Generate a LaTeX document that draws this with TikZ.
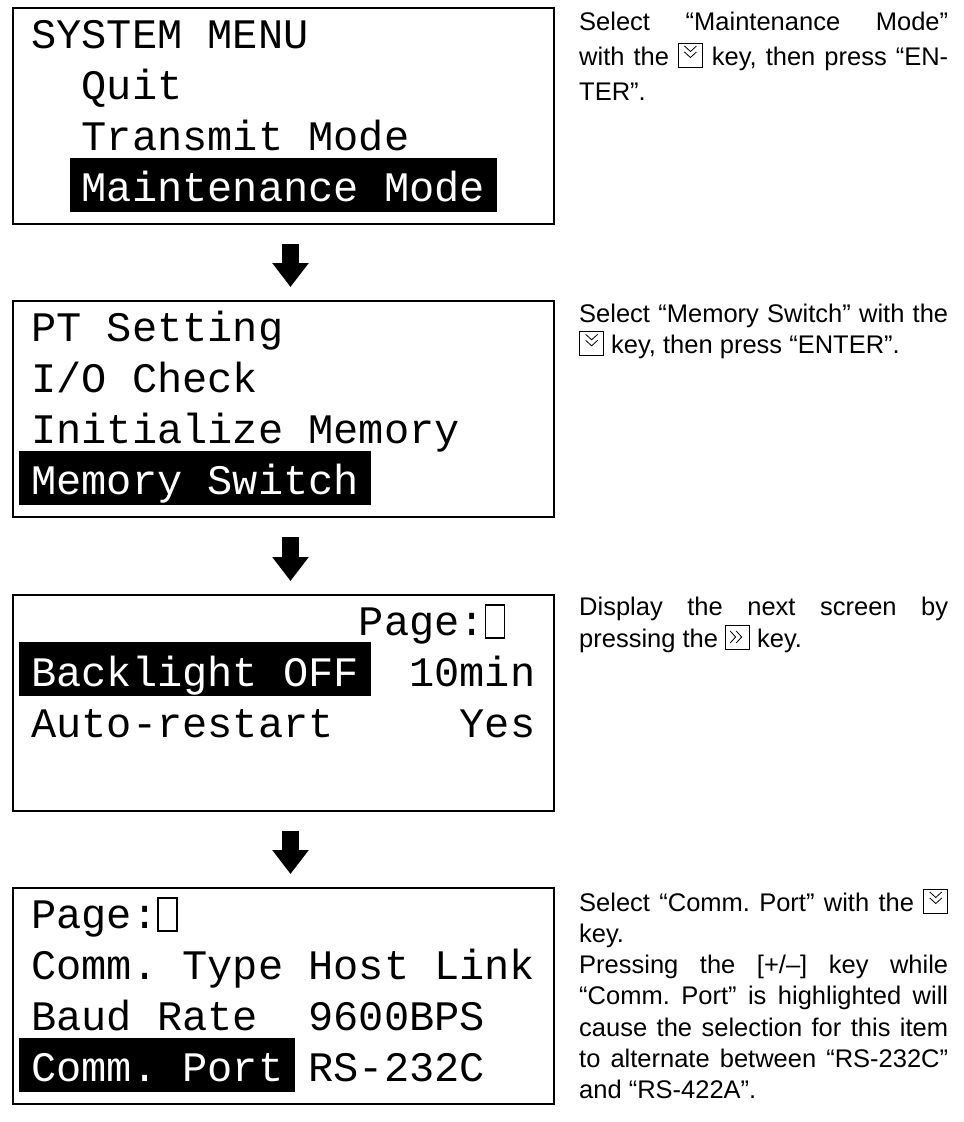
\documentclass[tikz,border=0pt]{standalone}
\usepackage{fontspec}
\usetikzlibrary{arrows.meta}
\newfontfamily\lcdfam{Liberation Mono}
\newfontfamily\descfam{Liberation Sans}
\newcommand\lcdfont{\lcdfam\fontsize{42pt}{42pt}\selectfont\frenchspacing}
\newcommand\descfont[1]{\descfam\fontsize{25.5pt}{#1}\selectfont\frenchspacing\sloppy\hyphenpenalty=10000\relax}
\newcommand\jl[1]{\makebox[369pt][s]{#1}}
\newcommand\keydn{\tikz[x=1pt,y=1pt,baseline=2pt]{\draw[line width=0.9pt] (0,0) rectangle (24,24);
  \draw[line width=0.8pt] (6,21)--(12,15.5)--(18,21) (6,15)--(12,9.5)--(18,15);}}
\newcommand\keyrt{\tikz[x=1pt,y=1pt,baseline=2pt]{\draw[line width=0.9pt] (0,0) rectangle (24,24);
  \draw[line width=0.8pt] (4.5,18)--(10,12)--(4.5,6) (10.5,18)--(16,12)--(10.5,6);}}
\begin{document}
\begin{tikzpicture}[x=1pt,y=-1pt,
  screen/.style={draw, line width=2pt, minimum width=541pt, minimum height=216pt, inner sep=0pt, anchor=north west},
  lcd/.style={font=\lcdfont, inner sep=0pt, anchor=base west},
  hl/.style={fill=black, text=white, inner xsep=12pt, inner ysep=0pt, text height=44pt, text depth=10pt},
  pagebox/.style={draw, line width=1.2pt, minimum width=19pt, minimum height=33pt, inner sep=0pt},
  flow/.style={line width=17pt, -{Triangle[width=35pt,length=24pt]}},
  desc/.style={inner sep=0pt, anchor=base west}]
\useasboundingbox (0,0) rectangle (964,1122);

% screens
\node[screen] (s1) at (12,7) {};
\node[screen] (s2) at (12,300) {};
\node[screen] (s3) at (12,594) {};
\node[screen] (s4) at (12,887) {};

% screen 1
\node[lcd] (t11) at (31,48) {SYSTEM MENU};
\node[lcd] (t12) at (81.4,99.3) {Quit};
\node[lcd] (t13) at (81.4,150.6) {Transmit Mode};
\node[lcd,hl] (t14) at (69.4,201.9) {Maintenance Mode};

% screen 2
\node[lcd] (t21) at (31,341) {PT Setting};
\node[lcd] (t22) at (31,392.3) {I/O Check};
\node[lcd] (t23) at (31,443.6) {Initialize Memory};
\node[lcd,hl] (t24) at (19,494.9) {Memory Switch};

% screen 3
\node[lcd] (t31) at (358.6,635) {Page:};
\node[pagebox] (p3) at (495.1,621.5) {};
\node[lcd,hl] (t32) at (19,686.3) {Backlight OFF};
\node[lcd] (t32v) at (409,686.3) {10min};
\node[lcd] (t33) at (31,737.6) {Auto-restart};
\node[lcd] (t33v) at (459.4,737.6) {Yes};

% screen 4
\node[lcd] (t41) at (31,928) {Page:};
\node[pagebox] (p4) at (167.5,914.5) {};
\node[lcd] (t42) at (31,979.3) {Comm. Type Host Link};
\node[lcd] (t43) at (31,1030.6) {Baud Rate};
\node[lcd] (t43v) at (308.2,1030.6) {9600BPS};
\node[lcd,hl] (t44) at (19,1081.9) {Comm. Port};
\node[lcd] (t44v) at (308.2,1081.9) {RS-232C};

% arrows
\draw[flow] ([xshift=7pt,yshift=-19pt]s1.south) -- ([xshift=7pt,yshift=13pt]s2.north);
\draw[flow] ([xshift=7pt,yshift=-19pt]s2.south) -- ([xshift=7pt,yshift=13pt]s3.north);
\draw[flow] ([xshift=7pt,yshift=-19pt]s3.south) -- ([xshift=7pt,yshift=13pt]s4.north);

% descriptions
\node[desc] (d1) at (579,30) {\parbox[t]{369pt}{\descfont{35pt}\jl{Select “Maintenance Mode”}\\\jl{with the \keydn\ key, then press “EN-}\\TER”.}};
\node[desc] (d2) at (579,322) {\parbox[t]{369pt}{\descfont{31.3pt}\jl{Select “Memory Switch” with the}\\\keydn\ key, then press “ENTER”.}};
\node[desc] (d3) at (579,615) {\parbox[t]{369pt}{\descfont{32pt}\jl{Display the next screen by}\\pressing the \keyrt\ key.}};
\node[desc] (d4) at (579,911) {\parbox[t]{369pt}{\descfont{31.3pt}\jl{Select “Comm. Port” with the \keydn}\\key.\\\jl{Pressing the [+/–] key while}\\\jl{“Comm. Port” is highlighted will}\\\jl{cause the selection for this item}\\\jl{to alternate between “RS-232C”}\\and “RS-422A”.}};
\end{tikzpicture}
\end{document}
